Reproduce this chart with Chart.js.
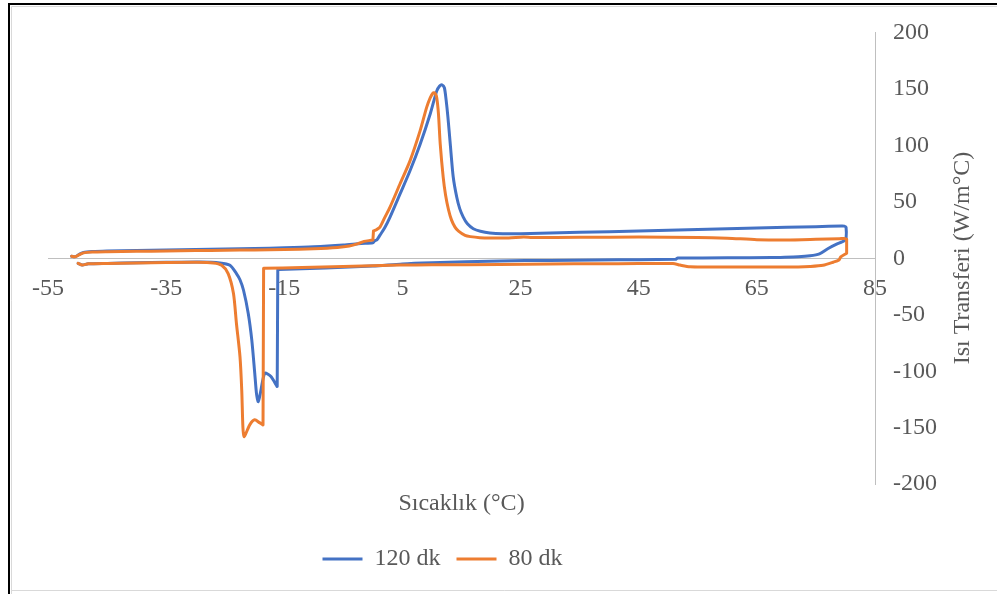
<!DOCTYPE html>
<html>
<head>
<meta charset="utf-8">
<script src="https://cdn.jsdelivr.net/npm/chart.js@4.4.1/dist/chart.umd.min.js"></script>
<style>
html,body{margin:0;padding:0;background:#fff;}
#wrap{position:relative;width:997px;height:594px;}
</style>
</head>
<body>
<div id="wrap"><canvas id="c"></canvas></div>
<script>
// ---- data ----
const xTicks = [-55, -35, -15, 5, 25, 45, 65, 85];
const yTicks = [-200, -150, -100, -50, 0, 50, 100, 150, 200];
const seriesNames = ['120 dk', '80 dk'];
const xTitle = 'Sıcaklık (°C)';
const yTitle = 'Isı Transferi (W/m°C)';

// 120 dk : heating (upper branch) then cooling (lower branch); repeated points = sharp corners
const blueT = [-51.0,-50.4,-49.7,-49.0,-47.5,-45.0,-40.0,-35.0,-30.0,-25.0,-20.0,-15.0,-10.0,-5.0,-2.0,0.0,0.3,0.7,1.2,2.0,2.9,4.6,6.3,8.0,9.7,10.8,11.3,11.7,12.1,12.4,12.7,13.1,13.6,14.2,14.7,15.3,16.0,17.0,18.2,19.8,22.0,25.0,35.0,45.0,55.0,65.0,75.0,79.3,79.8,80.1,80.1,
  79.9,79.4,78.5,77.0,75.6,74.0,72.0,69.0,67.5,60.0,51.6,51.6,51.3,51.3,45.0,38.0,30.0,21.5,10.0,5.0,0.0,-8.0,-16.0,-16.1,-16.1,-16.2,-16.2,-17.3,-18.3,-19.0,-19.4,-19.7,-20.0,-20.5,-21.1,-21.9,-22.5,-23.1,-24.2,-25.9,-29.3,-35.0,-40.0,-45.0,-48.2,-49.2,-49.9];
const blueV = [1.8,1.5,3.5,5.2,6.0,6.5,7.0,7.4,7.8,8.2,8.7,9.3,10.2,11.8,13.2,13.8,15.5,16.5,20.5,27,36.5,57,77.7,101,127.8,148,152.5,153.6,151,140,125,101,72,54,44,36.5,30.5,26.2,24,22.5,21.8,21.8,23.0,24.2,25.5,26.8,28.0,28.6,28.5,27.5,17.0,
  15.8,14.5,12.5,8.5,4.0,2.2,1.3,0.8,0.6,0.4,0.3,0.3,-0.8,-0.8,-1.2,-1.5,-1.9,-2.3,-4.0,-5.0,-6.8,-8.5,-10.0,-10.2,-10.2,-113.6,-113.6,-104.5,-101.8,-118,-127,-120,-101.8,-72.4,-48.8,-28.3,-19,-13.5,-6.2,-4.1,-3.3,-3.6,-4.0,-4.5,-4.9,-6.0,-4.5];

// 80 dk : heating (upper branch) then cooling (lower branch); repeated points = sharp corners
const orangeT = [-51.0,-50.4,-49.7,-49.0,-47.5,-45.0,-40.0,-35.0,-30.0,-25.0,-20.0,-15.0,-10.0,-6.0,-4.0,-2.5,-1.5,-0.3,0.0,0.0,0.1,0.1,0.6,1.2,2.0,2.9,4.6,6.3,8.0,9.1,9.7,10.2,10.5,10.8,11.1,11.4,11.9,12.3,12.8,13.3,13.9,14.5,15.6,16.5,18.1,20.0,23.0,25.5,27.0,35.0,45.0,55.0,60.0,65.0,70.0,75.0,79.0,79.8,80.2,80.2,80.2,80.2,
  79.2,78.9,77.9,76.2,74.0,72.0,65.0,58.0,53.7,52.0,50.8,45.0,38.0,30.0,21.5,10.0,4.6,-5.0,-12.0,-18.5,-18.5,-18.6,-18.6,-19.2,-20.0,-20.8,-21.5,-21.8,-22.0,-22.2,-22.5,-23.1,-23.6,-24.5,-25.6,-27.0,-30.0,-35.0,-40.0,-45.0,-48.2,-49.2,-49.9];
const orangeV = [1.8,1.3,3.2,4.8,5.6,5.9,6.2,6.5,6.8,7.1,7.4,7.8,8.5,9.6,10.9,13.0,15.0,15.9,16.2,16.2,24.2,24.2,25.3,27.6,36,45.3,66,86.5,113,133.6,142,146.5,146.2,142.4,127.8,101,71.8,56,43,34,27.6,24,20.3,19.2,18.3,18.0,18.0,18.8,18.4,18.6,18.8,18.5,17.8,16.5,16.2,16.8,17.4,17.6,17.0,17.0,4.5,4.5,
  1.2,-1.5,-3.5,-6.2,-7.3,-7.7,-7.7,-7.6,-7.5,-6.0,-4.6,-4.7,-4.8,-5.0,-5.4,-5.8,-6.0,-7.2,-8.2,-8.8,-8.8,-147.5,-147.5,-145.5,-143,-147,-155,-157.8,-150,-117,-87,-57.7,-31.2,-13.5,-6.2,-4.1,-3.6,-3.8,-4.2,-4.5,-4.9,-6.0,-4.5];

// ---- styling ----
const FONT = '"Liberation Serif", "Times New Roman", serif';
const TEXT = '#595959';
const AXIS = '#BFBFBF';
const BLUE = '#4472C4';
const ORANGE = '#ED7D31';

const toPts = (T, V) => T.map((t, i) => ({x: t, y: V[i]}));

const framePlugin = {
  id: 'frame',
  beforeDraw(chart) {
    const ctx = chart.ctx;
    ctx.save();
    ctx.fillStyle = '#ffffff';
    ctx.fillRect(0, 0, chart.width, chart.height);
    ctx.strokeStyle = '#D9D9D9';
    ctx.lineWidth = 1;
    ctx.beginPath();
    ctx.moveTo(11.5, 594); ctx.lineTo(11.5, 6.5); ctx.lineTo(997, 6.5);
    ctx.moveTo(11.5, 590.5); ctx.lineTo(997, 590.5);
    ctx.stroke();
    ctx.strokeStyle = '#000000';
    ctx.lineWidth = 2;
    ctx.beginPath();
    ctx.moveTo(9, 594); ctx.lineTo(9, 4); ctx.lineTo(997, 4);
    ctx.stroke();
    ctx.restore();
  },
  afterLayout(chart) {
    const lg = chart.legend;
    if (lg) { lg.left -= 19; lg.right -= 19; }
  },
  afterDraw(chart) {
    const ctx = chart.ctx;
    ctx.save();
    ctx.translate(963, 258);
    ctx.rotate(-Math.PI / 2);
    ctx.font = '24px ' + FONT;
    ctx.fillStyle = TEXT;
    ctx.textAlign = 'center';
    ctx.textBaseline = 'middle';
    ctx.fillText(yTitle, 0, 0);
    ctx.restore();
  }
};

new Chart(document.getElementById('c'), {
  type: 'scatter',
  data: {
    datasets: [
      {label: seriesNames[0], data: toPts(blueT, blueV), borderColor: BLUE, backgroundColor: BLUE, order: 1},
      {label: seriesNames[1], data: toPts(orangeT, orangeV), borderColor: ORANGE, backgroundColor: ORANGE, order: 0}
    ]
  },
  options: {
    responsive: true,
    maintainAspectRatio: false,
    animation: false,
    devicePixelRatio: 1,
    datasets: {
      scatter: {showLine: true, pointRadius: 0, pointHoverRadius: 0, borderWidth: 3, tension: 0.25,
        borderJoinStyle: 'round', borderCapStyle: 'round', fill: false}
    },
    layout: {padding: {left: 48, top: 31, right: 0, bottom: 13}},
    scales: {
      x: {
        type: 'linear',
        position: {y: 0},
        min: -55, max: 85,
        afterBuildTicks: s => { s.ticks = xTicks.map(v => ({value: v})); },
        grid: {display: true, drawOnChartArea: false, drawTicks: false},
        border: {display: true, color: AXIS, width: 1},
        ticks: {color: TEXT, font: {family: FONT, size: 24}, padding: 16, autoSkip: false, maxRotation: 0,
          callback: v => String(v)}
      },
      y: {
        type: 'linear',
        position: 'right',
        min: -200, max: 200,
        afterBuildTicks: s => { s.ticks = yTicks.map(v => ({value: v})); },
        afterFit: s => { s.width = 122; },
        grid: {display: true, drawOnChartArea: false, drawTicks: false},
        border: {display: true, color: AXIS, width: 1},
        ticks: {color: TEXT, font: {family: FONT, size: 24}, padding: 18, callback: v => String(v)}
      }
    },
    plugins: {
      tooltip: {enabled: false},
      title: {
        display: true, text: xTitle, position: 'bottom', fullSize: false, weight: 500,
        color: TEXT, font: {family: FONT, size: 24, weight: 'normal'},
        padding: {top: 5, bottom: 13}
      },
      legend: {
        display: true, position: 'bottom', fullSize: false,
        labels: {
          color: TEXT, font: {family: FONT, size: 24}, boxWidth: 40, boxHeight: 3, padding: 16,
          sort: (a, b) => a.datasetIndex - b.datasetIndex,
          generateLabels: chart => Chart.defaults.plugins.legend.labels.generateLabels(chart)
            .map(l => Object.assign({}, l, {lineWidth: 0, fillStyle: l.strokeStyle}))
        }
      }
    }
  },
  plugins: [framePlugin]
});
</script>
</body>
</html>
